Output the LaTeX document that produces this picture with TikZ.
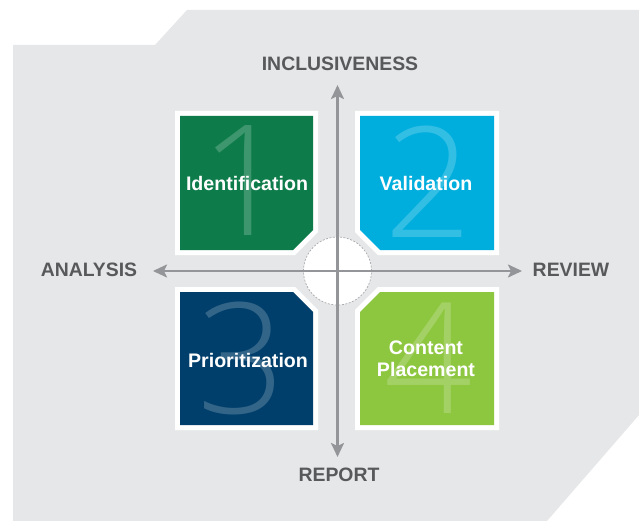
\documentclass[tikz,border=0pt]{standalone}
\usepackage{fontspec}
\setmainfont{Liberation Sans}
\newfontfamily\thinfont{Open Sans Light}
\usetikzlibrary{arrows.meta}
\definecolor{bggray}{HTML}{E6E7E8}
\definecolor{txtgray}{HTML}{58595B}
\definecolor{axgray}{HTML}{939598}
\definecolor{cgreen}{HTML}{0E7C4A}
\definecolor{ccyan}{HTML}{00AEDE}
\definecolor{cnavy}{HTML}{003F6B}
\definecolor{clime}{HTML}{8DC63F}
\tikzset{
  quad/.style={fill=#1, preaction={draw=white, line width=10pt, line join=miter}},
  axislabel/.style={font=\fontsize{19.4}{21}\selectfont\bfseries, text=txtgray},
  boxlabel/.style={font=\fontsize{19.6}{22}\selectfont\bfseries, text=white, align=center},
  digit/.style={font=\fontsize{154}{154}\selectfont\thinfont, text=white, text opacity=0.2},
  axis/.style={draw=axgray, line width=2.2pt, -{Stealth[length=14pt,width=13pt,inset=3pt]}}
}
\begin{document}
\begin{tikzpicture}[x=1pt,y=-1pt]
\useasboundingbox (0,0) rectangle (639,521);
% background
\fill[bggray] (13,45) -- (155,45) -- (187,10) -- (639,10) -- (639,415) -- (547,521) -- (13,521) -- cycle;
% quadrants
\path[quad=cgreen] (180,116) -- (313,116) -- (313,230) -- (293,250) -- (180,250) -- cycle;
\path[quad=ccyan] (360,116) -- (494,116) -- (494,250) -- (380,250) -- (360,230) -- cycle;
\path[quad=cnavy] (180,292) -- (293,292) -- (313,312) -- (313,425) -- (180,425) -- cycle;
\path[quad=clime] (380,292) -- (494,292) -- (494,425) -- (360,425) -- (360,312) -- cycle;
% big digits
\node[digit] (d1) at (244,181) {1};
\node[digit] (d2) at (428,182) {2};
\node[digit] (d3) at (241,358) {3};
\node[digit] (d4) at (428,358) {4};
% labels in boxes
\node[boxlabel] (l1) at (247,183) {Identification};
\node[boxlabel] (l2) at (426,183) {Validation};
\node[boxlabel] (l3) at (248,360) {Prioritization};
\node[boxlabel] (l4) at (426,359) {Content\\Placement};
% center circle
\node[circle, minimum size=68pt, inner sep=0pt, fill=white, draw=axgray!80, dashed, dash pattern=on 2pt off 1.5pt, line width=0.7pt] (c) at (337.5,271) {};
% axis labels
\node[axislabel] (top) at (340,64) {INCLUSIVENESS};
\node[axislabel] (left) at (89,270) {ANALYSIS};
\node[axislabel] (right) at (571,270) {REVIEW};
\node[axislabel] (bottom) at (339,475) {REPORT};
\coordinate (tt) at (337.5,85);
\coordinate (bt) at (337.5,457);
\coordinate (lt) at (153,271);
\coordinate (rt) at (522,271);
\draw[axis] (c.center) -- (tt);
\draw[axis] (c.center) -- (bt);
\draw[axis] (c.center) -- (lt);
\draw[axis] (c.center) -- (rt);
\end{tikzpicture}
\end{document}
